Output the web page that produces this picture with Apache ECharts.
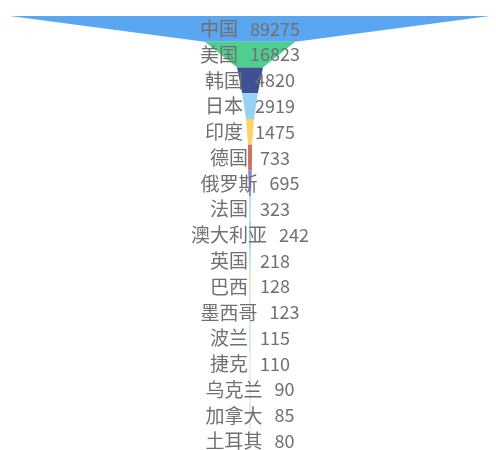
<!DOCTYPE html>
<html>
<head>
<meta charset="utf-8">
<script src="https://cdn.jsdelivr.net/npm/echarts@6/dist/echarts.min.js"></script>
<style>
  html, body { margin: 0; padding: 0; background: #fff; }
  #chart { width: 496px; height: 450px; }
</style>
</head>
<body>
<div id="chart"></div>
<script>
// Countries and their counts, largest first
const countries = ['中国', '美国', '韩国', '日本', '印度', '德国', '俄罗斯', '法国', '澳大利亚', '英国', '巴西', '墨西哥', '波兰', '捷克', '乌克兰', '加拿大', '土耳其'];
const counts = [89275, 16823, 4820, 2919, 1475, 733, 695, 323, 242, 218, 128, 123, 115, 110, 90, 85, 80];
const palette = ['#5aa6f0', '#4fcf8f', '#3f5192', '#98d2f2', '#fbd366', '#c9715c', '#8f84d6', '#a9e0ee', '#6fb8e8', '#7fd6b0', '#e59f6a', '#b9a2e0', '#74c7c9', '#f0a8b0', '#9cc27a', '#7d9be0', '#d9c36a'];

const chart = echarts.init(document.getElementById('chart'));
chart.setOption({
  color: palette,
  series: [{
    type: 'funnel',
    left: 10,
    width: 480,
    top: 16,
    height: 438,
    min: 0,
    max: Math.max(...counts),
    minSize: '0%',
    maxSize: '100%',
    sort: 'descending',
    gap: 0,
    label: {
      show: true,
      position: 'inside',
      formatter: '{n|{b}}{v|{c}}',
      color: '#707070',
      fontFamily: 'Noto Sans CJK SC',
      rich: {
        n: { fontSize: 19, color: '#707070', fontFamily: 'Noto Sans CJK SC' },
        v: { fontSize: 18, color: '#707070', fontFamily: 'Noto Sans CJK SC', padding: [0, 0, 0, 12] }
      }
    },
    itemStyle: { borderWidth: 0 },
    data: countries.map((name, i) => ({ name: name, value: counts[i] }))
  }]
});
</script>
</body>
</html>
